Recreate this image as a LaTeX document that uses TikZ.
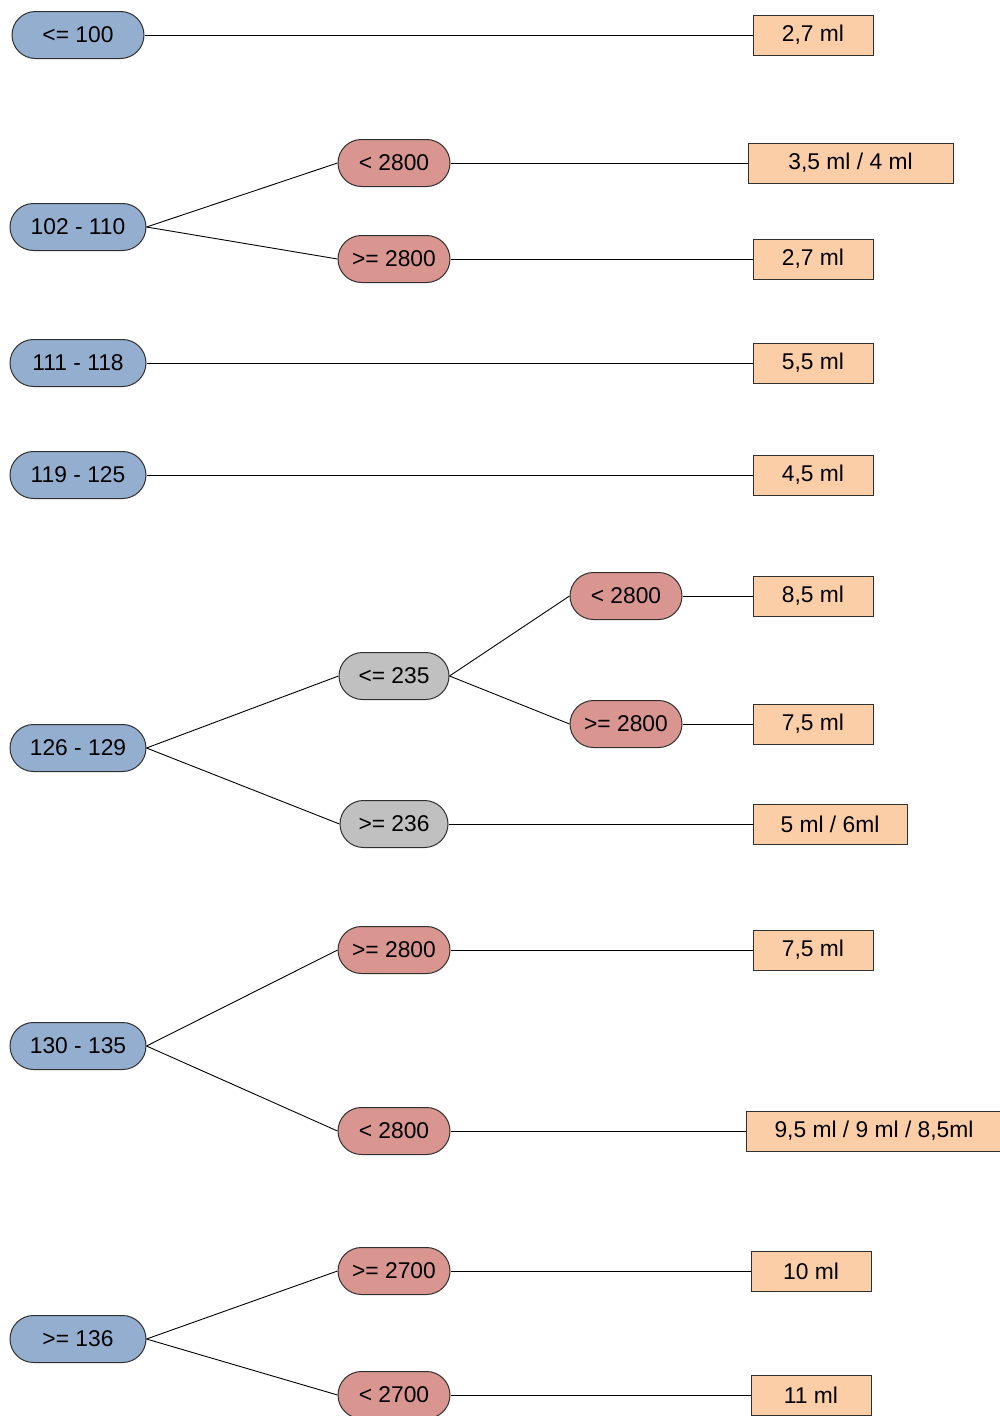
\documentclass[tikz,border=0pt]{standalone}
\usepackage{fontspec}
\setmainfont{Liberation Sans}
\definecolor{rangeblue}{HTML}{94AECF}
\definecolor{condred}{HTML}{D9958F}
\definecolor{condgray}{HTML}{C0C0C0}
\definecolor{dosepeach}{HTML}{FBCEA8}
\definecolor{edgegray}{HTML}{303030}
\tikzset{
  base/.style={draw=edgegray, line width=1pt, inner sep=0pt, text=black,
    font=\fontsize{22.8}{26}\selectfont},
  pill/.style={base, rounded corners=23.5pt, minimum height=47pt},
  agebox/.style={pill, fill=rangeblue, minimum width=136pt},
  cond/.style={pill, fill=condred, minimum width=112pt},
  condg/.style={pill, fill=condgray, minimum width=110pt},
  dose/.style={base, fill=dosepeach, minimum height=40pt, minimum width=120pt},
  link/.style={draw=black, line width=0.9pt},
}
\begin{document}
\begin{tikzpicture}[x=1pt, y=-1pt]
\useasboundingbox (0,0) rectangle (999,1416);

% age groups
\node[agebox, minimum width=132pt] (r1) at (78,35) {<= 100};
\node[agebox] (r2) at (78,227) {102 - 110};
\node[agebox] (r3) at (78,363) {111 - 118};
\node[agebox] (r4) at (78,475) {119 - 125};
\node[agebox] (r5) at (78,748) {126 - 129};
\node[agebox] (r6) at (78,1046) {130 - 135};
\node[agebox] (r7) at (78,1339) {>= 136};

% conditions
\node[cond] (c2a) at (394,163) {< 2800};
\node[cond] (c2b) at (394,259) {>= 2800};
\node[condg] (g5a) at (394,676) {<= 235};
\node[condg, minimum width=108pt] (g5b) at (394,824) {>= 236};
\node[cond] (c5a) at (626,596) {< 2800};
\node[cond] (c5b) at (626,724) {>= 2800};
\node[cond] (c6a) at (394,950) {>= 2800};
\node[cond] (c6b) at (394,1131) {< 2800};
\node[cond] (c7a) at (394,1271) {>= 2700};
\node[cond] (c7b) at (394,1395) {< 2700};

% doses
\node[dose] (d1) at (813,35) {2,7 ml};
\node[dose, minimum width=205pt] (d2a) at (850.5,163) {3,5 ml / 4 ml};
\node[dose] (d2b) at (813,259) {2,7 ml};
\node[dose] (d3) at (813,363) {5,5 ml};
\node[dose] (d4) at (813,475) {4,5 ml};
\node[dose] (d5a) at (813,596) {8,5 ml};
\node[dose] (d5b) at (813,724) {7,5 ml};
\node[dose, minimum width=154pt] (d5c) at (830,824) {5 ml / 6ml};
\node[dose] (d6a) at (813,950) {7,5 ml};
\node[dose, minimum width=256pt] (d6b) at (874,1131) {9,5 ml / 9 ml / 8,5ml};
\node[dose] (d7a) at (811,1271) {10 ml};
\node[dose] (d7b) at (811,1395) {11 ml};

% connectors
\draw[link] (r1.east) -- (d1.west);
\draw[link] (r2.east) -- (c2a.west);
\draw[link] (r2.east) -- (c2b.west);
\draw[link] (c2a.east) -- (d2a.west);
\draw[link] (c2b.east) -- (d2b.west);
\draw[link] (r3.east) -- (d3.west);
\draw[link] (r4.east) -- (d4.west);
\draw[link] (r5.east) -- (g5a.west);
\draw[link] (r5.east) -- (g5b.west);
\draw[link] (g5a.east) -- (c5a.west);
\draw[link] (g5a.east) -- (c5b.west);
\draw[link] (c5a.east) -- (d5a.west);
\draw[link] (c5b.east) -- (d5b.west);
\draw[link] (g5b.east) -- (d5c.west);
\draw[link] (r6.east) -- (c6a.west);
\draw[link] (r6.east) -- (c6b.west);
\draw[link] (c6a.east) -- (d6a.west);
\draw[link] (c6b.east) -- (d6b.west);
\draw[link] (r7.east) -- (c7a.west);
\draw[link] (r7.east) -- (c7b.west);
\draw[link] (c7a.east) -- (d7a.west);
\draw[link] (c7b.east) -- (d7b.west);
\end{tikzpicture}
\end{document}
